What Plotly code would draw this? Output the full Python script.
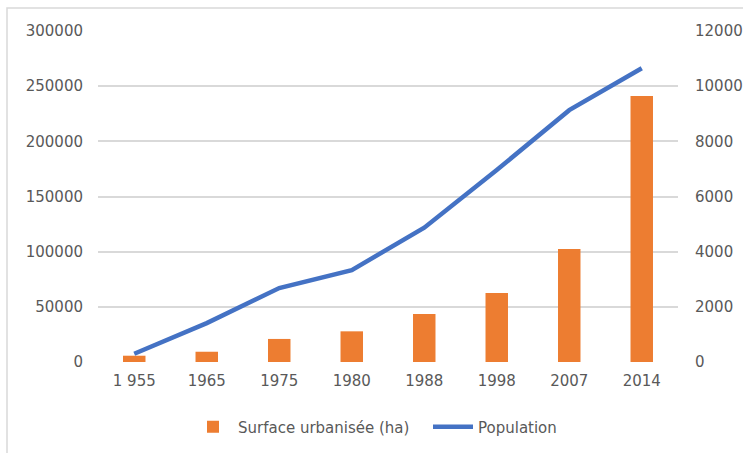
import plotly.graph_objects as go

years = ["1 955", "1965", "1975", "1980", "1988", "1998", "2007", "2014"]
surface = [5700, 9300, 20900, 27800, 43500, 62500, 102500, 241000]
population = [300, 1410, 2680, 3330, 4870, 6960, 9130, 10650]

W, H = 743, 453
L, R, T, B = 98, 65, 31, 91
pw, ph = W - L - R, H - T - B

def px(x):
    return (x - L) / pw

def py(y):
    return (H - B - y) / ph

font_color = "#595959"
fam = "DejaVu Sans"
fs = 15

fig = go.Figure()
fig.add_trace(go.Bar(x=years, y=surface, name="Surface urbanisée (ha)",
                     marker=dict(color="#ED7D31", line=dict(width=0)), yaxis="y",
                     legend="legend"))
fig.add_trace(go.Scatter(x=years, y=population, name="Population", mode="lines",
                         line=dict(color="#4472C4", width=4.5), yaxis="y2",
                         legend="legend2"))

leg_common = dict(orientation="h", xanchor="left", yanchor="middle", y=py(427),
                  font=dict(size=fs, color=font_color), itemwidth=40,
                  bgcolor="rgba(0,0,0,0)")

fig.update_layout(
    width=W, height=H,
    margin=dict(l=L, r=R, t=T, b=B, autoexpand=False),
    paper_bgcolor="white", plot_bgcolor="white",
    font=dict(family=fam, size=fs, color=font_color),
    bargap=0.69,
    showlegend=True,
    legend=dict(x=px(188), **leg_common),
    legend2=dict(x=px(428), **leg_common),
    xaxis=dict(type="category", showgrid=False, showline=False, zeroline=False,
               ticks="", ticklabelstandoff=8, tickfont=dict(size=fs, color=font_color)),
    yaxis=dict(range=[0, 300000], dtick=50000, showgrid=True, gridcolor="#D9D9D9",
               gridwidth=1.5, zeroline=False, showline=False, ticks="",
               tickformat="d", ticklabelstandoff=14, tickfont=dict(size=fs, color=font_color)),
    yaxis2=dict(range=[0, 12000], dtick=2000, overlaying="y", side="right",
                showgrid=False, zeroline=False, showline=False, ticks="",
                tickformat="d", ticklabelstandoff=16, tickfont=dict(size=fs, color=font_color)),
    shapes=[dict(type="rect", xref="paper", yref="paper",
                 x0=px(7), x1=px(760), y0=py(470), y1=py(8),
                 line=dict(color="#D9D9D9", width=1.5), fillcolor="rgba(0,0,0,0)", layer="below")],
)

fig.write_html("out.html", config={"displayModeBar": False},
               post_script="document.body.style.margin='0';document.body.style.overflow='hidden';")
